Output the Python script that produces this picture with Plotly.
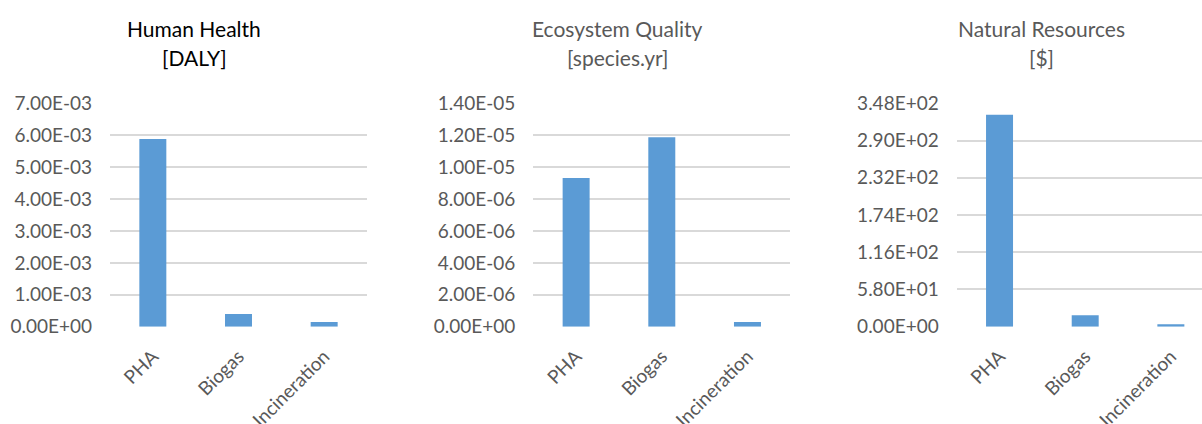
import plotly.graph_objects as go

# Endpoint impact scores for three end-of-life routes
categories = ["PHA", "Biogas", "Incineration"]
human_health = [5.88e-3, 4.0e-4, 1.5e-4]          # DALY
ecosystem_quality = [9.32e-6, 1.187e-5, 2.9e-7]   # species.yr
natural_resources = [330.0, 17.8, 3.7]            # $

human_health_ticks = [0.0, 1e-3, 2e-3, 3e-3, 4e-3, 5e-3, 6e-3, 7e-3]
ecosystem_quality_ticks = [0.0, 2e-6, 4e-6, 6e-6, 8e-6, 1e-5, 1.2e-5, 1.4e-5]
natural_resources_ticks = [0, 58, 116, 174, 232, 290, 348]

panel_titles = [
    ("Human Health", "[DALY]"),
    ("Ecosystem Quality", "[species.yr]"),
    ("Natural Resources", "[$]"),
]

series = [human_health, ecosystem_quality, natural_resources]
tick_sets = [human_health_ticks, ecosystem_quality_ticks, natural_resources_ticks]

# Page geometry (pixels)
W, H = 1202, 424
plot_left = [110.0, 533.3, 956.7]
plot_width = 257.0
y_top, y_bottom = 103.3, 326.7
title_cx = [194.0, 617.7, 1041.0]
title_colors = ["#000000", "#595959", "#595959"]

FONT = "Lato"
GREY = "#595959"
GRID = "#D9D9D9"
BAR = "#5B9BD5"

fig = go.Figure()
layout_axes = {}
annotations = []

for i, (vals, ticks) in enumerate(zip(series, tick_sets)):
    n = i + 1
    xa = "x" if n == 1 else f"x{n}"
    ya = "y" if n == 1 else f"y{n}"
    fig.add_trace(go.Bar(
        x=categories, y=vals, xaxis=xa, yaxis=ya,
        marker=dict(color=BAR, line=dict(width=0)),
        hoverinfo="x+y",
    ))

    left = plot_left[i]
    right = min(left + plot_width, W)
    x_hi = -0.5 + len(categories) * (right - left) / plot_width

    layout_axes[f"xaxis{'' if n == 1 else n}"] = dict(
        domain=[left / W, right / W],
        anchor=ya,
        range=[-0.5, x_hi],
        type="category",
        automargin=False,
        showgrid=False,
        showline=False,
        zeroline=False,
        ticks="",
        tickangle=-45,
        ticklabelstandoff=14,
        tickfont=dict(family=FONT, size=19, color=GREY),
    )
    layout_axes[f"yaxis{'' if n == 1 else n}"] = dict(
        domain=[1 - y_bottom / H, 1 - y_top / H],
        anchor=xa,
        range=[0, ticks[-1]],
        tickmode="array",
        tickvals=ticks,
        ticktext=[f"{v:.2E}" for v in ticks],
        automargin=False,
        showgrid=True,
        gridcolor=GRID,
        gridwidth=1.7,
        zeroline=False,
        showline=False,
        ticks="",
        ticklabelstandoff=17,
        tickfont=dict(family=FONT, size=19, color=GREY),
    )

    line1, line2 = panel_titles[i]
    for text, cy in ((line1, 28.5), (line2, 57.5)):
        annotations.append(dict(
            text=text, xref="paper", yref="paper",
            x=title_cx[i] / W, y=1 - cy / H,
            xanchor="center", yanchor="middle",
            showarrow=False,
            font=dict(family=FONT, size=21, color=title_colors[i]),
        ))

fig.update_layout(
    width=W, height=H,
    margin=dict(l=0, r=0, t=0, b=0),
    paper_bgcolor="white",
    plot_bgcolor="white",
    showlegend=False,
    bargap=0.685,
    annotations=annotations,
    **layout_axes,
)

fig.write_html("out.html")
